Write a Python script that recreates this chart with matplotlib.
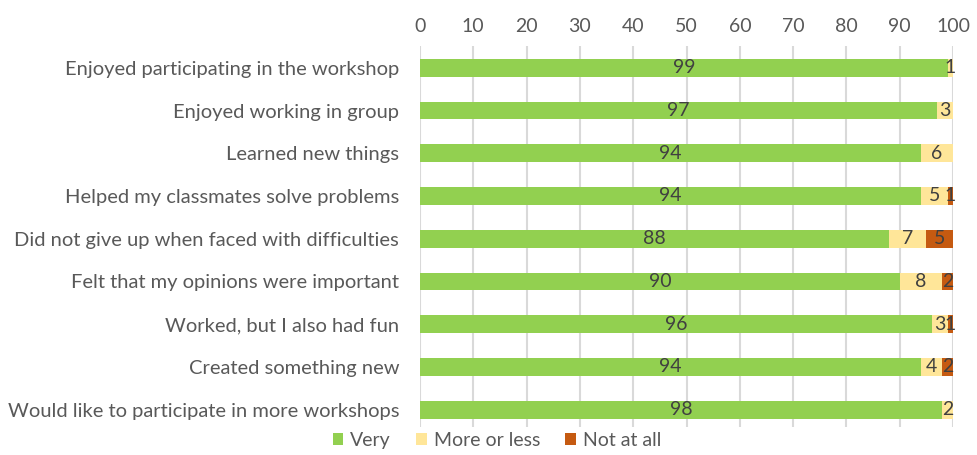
import numpy as np
import matplotlib.pyplot as plt

# Données
categories = [
    "Enjoyed participating in the workshop",
    "Enjoyed working in group",
    "Learned new things",
    "Helped my classmates solve problems",
    "Did not give up when faced with difficulties",
    "Felt that my opinions were important",
    "Worked, but I also had fun",
    "Created something new",
    "Would like to participate in more workshops",
]
very = [99, 97, 94, 94, 88, 90, 96, 94, 98]
more_or_less = [1, 3, 6, 5, 7, 8, 3, 4, 2]
not_at_all = [0, 0, 0, 1, 5, 2, 1, 2, 0]
series_names = ["Very", "More or less", "Not at all"]
colors = ["#92D050", "#FFE699", "#C55A11"]

plt.rcParams['font.family'] = ['Lato', 'DejaVu Sans']

fig = plt.figure(figsize=(9.78, 4.55), dpi=100)
ax = fig.add_axes([0.4294, 0.062, 0.5451, 0.836])

y = np.arange(len(categories))
left = np.zeros(len(categories))
for vals, name, col in zip([very, more_or_less, not_at_all], series_names, colors):
    vals = np.array(vals, dtype=float)
    ax.barh(y, vals, left=left, height=0.42, color=col, label=name, zorder=2)
    for yi, l, v in zip(y, left, vals):
        if v > 0:
            ax.text(l + v / 2, yi, str(int(v)), ha='center', va='center',
                    fontsize=14, color='#404040', zorder=5, clip_on=False)
    left = left + vals

ax.set_xlim(0, 100)
ax.set_ylim(8.4, -0.5)
ax.set_xticks(np.arange(0, 101, 10))
ax.xaxis.tick_top()
ax.tick_params(axis='x', length=0, labelsize=14, labelcolor='#595959', pad=8)
ax.set_yticks(y)
ax.set_yticklabels(categories)
ax.tick_params(axis='y', length=0, labelsize=14.5, labelcolor='#595959', pad=15)
ax.grid(axis='x', color='#D9D9D9', linewidth=1.5, zorder=0)
for s in ax.spines.values():
    s.set_visible(False)

fig.legend(loc='lower center', bbox_to_anchor=(0.508, -0.025), ncol=3, frameon=False,
           fontsize=14, handlelength=0.55, handleheight=0.55, handletextpad=0.35,
           columnspacing=1.3, labelcolor='#595959')

fig.savefig('out.png', dpi=100)
